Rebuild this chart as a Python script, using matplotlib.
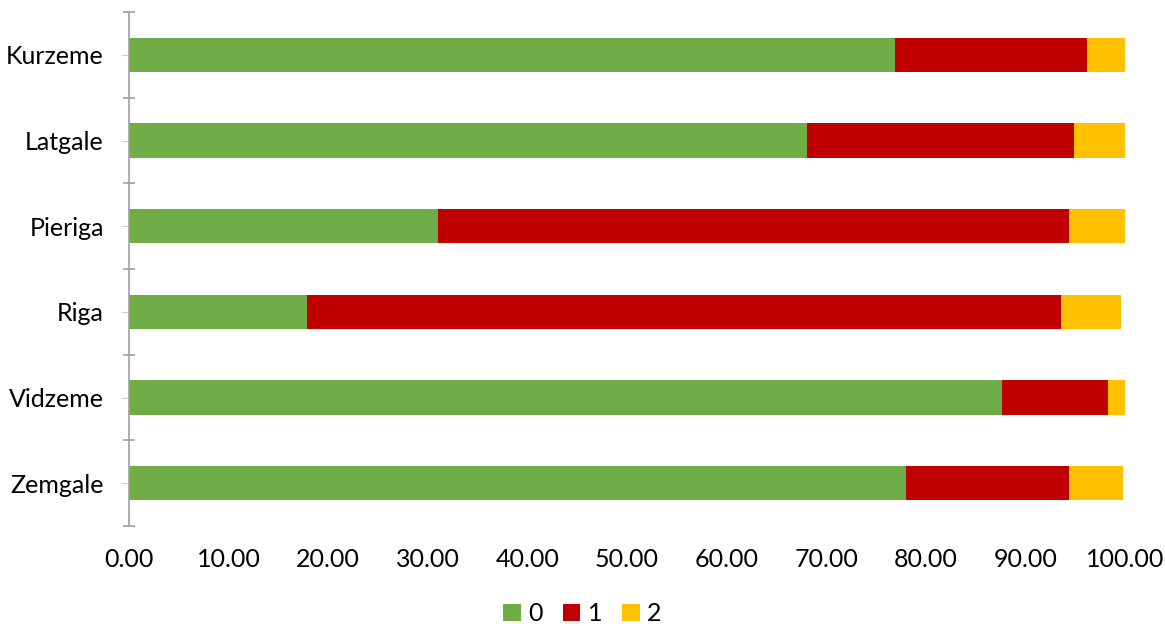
import matplotlib.pyplot as plt
import numpy as np

regions = ["Kurzeme", "Latgale", "Pieriga", "Riga", "Vidzeme", "Zemgale"]
share_0 = [76.9, 68.1, 31.0, 17.9, 87.6, 78.0]
share_1 = [19.3, 26.8, 63.4, 75.7, 10.7, 16.4]
share_2 = [3.8, 5.1, 5.6, 6.0, 1.7, 5.4]
series_names = ["0", "1", "2"]
colors = ["#70AD47", "#C00000", "#FFC000"]
xticks = np.arange(0, 101, 10)

plt.rcParams['font.family'] = ['Lato', 'DejaVu Sans']

fig = plt.figure(figsize=(11.65, 6.26), dpi=100)
ax = fig.add_axes([0.1107, 0.1597, 0.8550, 0.8211])

y = np.arange(len(regions))
left = np.zeros(len(regions))
for vals, name, col in zip([share_0, share_1, share_2], series_names, colors):
    vals = np.array(vals)
    ax.barh(y, vals, left=left, height=0.4, color=col, label=name)
    left += vals

ax.set_ylim(len(regions) - 0.5, -0.5)
ax.set_xlim(0, 100)

ax.set_xticks(xticks)
ax.set_xticklabels([f"{v:.2f}" for v in xticks], fontsize=18)
ax.tick_params(axis='x', length=0, pad=16)

ax.set_yticks(y)
ax.set_yticklabels(regions, fontsize=18)
ax.set_yticks(np.arange(-0.5, len(regions), 1), minor=True)
ax.tick_params(axis='y', which='major', length=6, color='#D0D0D0', pad=12)
ax.tick_params(axis='y', which='minor', length=8, direction='inout',
               color='#A0A0A0', width=1.2)

for side in ['top', 'right', 'bottom']:
    ax.spines[side].set_visible(False)
ax.spines['left'].set_color('#A0A0A0')
ax.spines['left'].set_linewidth(1.2)

fig.legend(loc='lower center', ncol=3, frameon=False, fontsize=18,
           handlelength=0.7, handleheight=0.7, handletextpad=0.3,
           columnspacing=0.8, bbox_to_anchor=(0.5, -0.035))

fig.savefig("out.png", dpi=100)
